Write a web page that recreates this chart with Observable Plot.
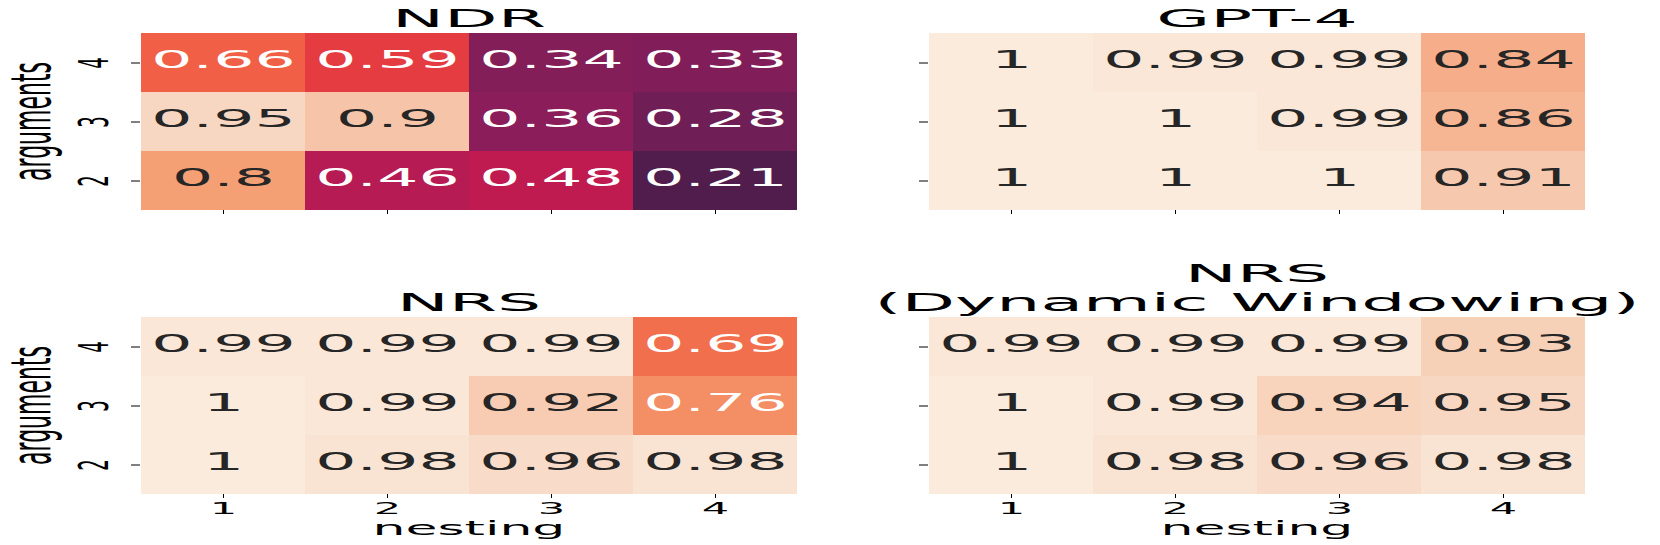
<!DOCTYPE html>
<html>
<head>
<meta charset="utf-8">
<script src="https://cdn.jsdelivr.net/npm/d3@7"></script>
<script src="https://cdn.jsdelivr.net/npm/@observablehq/plot@0.6"></script>
<style>
html, body { margin: 0; padding: 0; background: #ffffff; }
#fig { position: relative; width: 1660px; height: 545px; overflow: hidden; font-family: "DejaVu Sans"; }
#fig > div { position: absolute; }
</style>
</head>
<body>
<div id="fig"></div>
<script>
// ---------- data ----------
const nesting = [1, 2, 3, 4];
const argumentCounts = [4, 3, 2]; // rows, top to bottom
const panelTitles = ["NDR", "GPT-4", "NRS", "NRS\n(Dynamic Windowing)"];
const xLabel = "nesting";
const yLabel = "arguments";

const ndrValues = [
  [0.66, 0.59, 0.34, 0.33],
  [0.95, 0.90, 0.36, 0.28],
  [0.80, 0.46, 0.48, 0.21]
];
const gpt4Values = [
  [1.00, 0.99, 0.99, 0.84],
  [1.00, 1.00, 0.99, 0.86],
  [1.00, 1.00, 1.00, 0.91]
];
const nrsValues = [
  [0.99, 0.99, 0.99, 0.69],
  [1.00, 0.99, 0.92, 0.76],
  [1.00, 0.98, 0.96, 0.98]
];
const nrsDwValues = [
  [0.99, 0.99, 0.99, 0.93],
  [1.00, 0.99, 0.94, 0.95],
  [1.00, 0.98, 0.96, 0.98]
];

// ---------- styling ----------
// "rocket"-like colormap, vmin 0, vmax 1
const colorOptions = {
  type: "linear",
  domain: [0, 0.1, 0.2, 0.3, 0.4, 0.5, 0.6, 0.65, 0.7, 0.8, 0.9, 1],
  range: ["#03051a", "#221331", "#4c1d4b", "#781f58", "#961c5b", "#cb1b4f",
          "#e8403f", "#f05a44", "#f2744f", "#f59f74", "#f6c4a8", "#faebdd"],
  interpolate: "rgb"
};
const colorScale = Plot.scale({color: colorOptions});
function relLum(c) {
  const {r, g, b} = d3.rgb(c);
  const f = v => { v /= 255; return v <= 0.03928 ? v / 12.92 : Math.pow((v + 0.055) / 1.055, 2.4); };
  return 0.2126 * f(r) + 0.7152 * f(g) + 0.0722 * f(b);
}
const isLight = d => relLum(colorScale.apply(d.value)) > 0.408;
const fmt = d3.format(".2");

const stretchFactors = {
  "title": 2.9,
  "cell label": 2.7,
  "x-axis tick label": 2.7,
  "y tick label": 2.3,
  "x label": 2.6,
  "y label": 2.5
};

function stretchOne(t, s) {
  let tr = t.getAttribute("transform");
  if (tr) {
    const m = tr.match(/^\s*translate\([^)]*\)/);
    if (m) tr = m[0] + ` scale(${s},1)` + tr.slice(m[0].length);
    else tr = `scale(${s},1) ` + tr;
    t.setAttribute("transform", tr);
  } else {
    const xs = t.getAttribute("x"), ys = t.getAttribute("y");
    const xNum = xs && /^-?[\d.]+$/.test(xs);
    const yNum = ys && /^-?[\d.]+$/.test(ys);
    t.setAttribute("transform", `translate(${xNum ? +xs : 0},${yNum ? +ys : 0}) scale(${s},1)`);
    if (xNum) t.setAttribute("x", 0);
    if (yNum) t.setAttribute("y", 0);
  }
}

function stretchText(svg) {
  svg.querySelectorAll("text").forEach(t => {
    let s;
    const gd = t.closest("[aria-description]");
    if (gd) s = stretchFactors[gd.getAttribute("aria-description")];
    if (!s) {
      const gl = t.closest("[aria-label]");
      if (gl) s = stretchFactors[gl.getAttribute("aria-label")];
    }
    if (s) stretchOne(t, s);
  });
}

const panels = [
  {title: panelTitles[0], values: ndrValues,   left: 0,   top: 0,   height: 230, mL: 140, mR: 33, mT: 32, mB: 20, yText: true,  xText: false},
  {title: panelTitles[1], values: gpt4Values,  left: 830, top: 0,   height: 230, mL: 98,  mR: 75, mT: 32, mB: 20, yText: false, xText: false},
  {title: panelTitles[2], values: nrsValues,   left: 0,   top: 230, height: 315, mL: 140, mR: 33, mT: 86, mB: 51, yText: true,  xText: true},
  {title: panelTitles[3], values: nrsDwValues, left: 830, top: 230, height: 315, mL: 98,  mR: 75, mT: 86, mB: 51, yText: false, xText: true}
];

const fig = document.getElementById("fig");

for (const p of panels) {
  const table = [];
  argumentCounts.forEach((a, i) => nesting.forEach((n, j) => table.push({nesting: n, args: a, value: p.values[i][j]})));

  const marks = [
    Plot.cell(table, {x: "nesting", y: "args", fill: "value", inset: 0}),
    Plot.text(table, {x: "nesting", y: "args", text: d => fmt(d.value), filter: isLight, fill: "#262626", fontSize: 24, dy: -3, ariaDescription: "cell label"}),
    Plot.text(table, {x: "nesting", y: "args", text: d => fmt(d.value), filter: d => !isLight(d), fill: "#ffffff", fontSize: 24, dy: -3, ariaDescription: "cell label"}),
    Plot.text([p.title], {text: d => d, frameAnchor: "top", textAnchor: "middle", dy: -6, lineAnchor: "bottom", lineHeight: 1.2, fontSize: 24, fill: "#000000", ariaDescription: "title"})
  ];

  if (p.xText) {
    marks.push(Plot.axisX({tickSize: 4, tickPadding: 4, fontSize: 16, label: null, color: "#000000"}));
    marks.push(Plot.text([xLabel], {text: d => d, frameAnchor: "bottom", textAnchor: "middle", dy: 34, lineAnchor: "middle", fontSize: 20, fill: "#000000", ariaDescription: "x label"}));
  } else {
    marks.push(Plot.axisX({tickSize: 4, fill: "none", stroke: "#000000", label: null}));
  }
  marks.push(Plot.axisY({tickSize: 9, fill: "none", stroke: "#000000", label: null}));
  if (p.yText) {
    marks.push(Plot.text(argumentCounts, {y: d => d, text: d => String(d), frameAnchor: "left", dx: -33, rotate: -90, textAnchor: "middle", lineAnchor: "bottom", fontSize: 18, fill: "#000000", ariaDescription: "y tick label"}));
    marks.push(Plot.text([yLabel], {text: d => d, frameAnchor: "left", dx: -108, rotate: -90, textAnchor: "middle", lineAnchor: "middle", fontSize: 22, fill: "#000000", ariaDescription: "y label"}));
  }

  const svg = Plot.plot({
    width: 830,
    height: p.height,
    marginLeft: p.mL,
    marginRight: p.mR,
    marginTop: p.mT,
    marginBottom: p.mB,
    style: {fontFamily: "DejaVu Sans", background: "transparent", overflow: "visible"},
    x: {type: "band", domain: nesting, padding: 0, label: null},
    y: {type: "band", domain: argumentCounts, padding: 0, label: null},
    color: colorOptions,
    marks
  });
  stretchText(svg);
  const holder = document.createElement("div");
  holder.style.left = p.left + "px";
  holder.style.top = p.top + "px";
  holder.appendChild(svg);
  fig.appendChild(holder);
}
</script>
</body>
</html>
